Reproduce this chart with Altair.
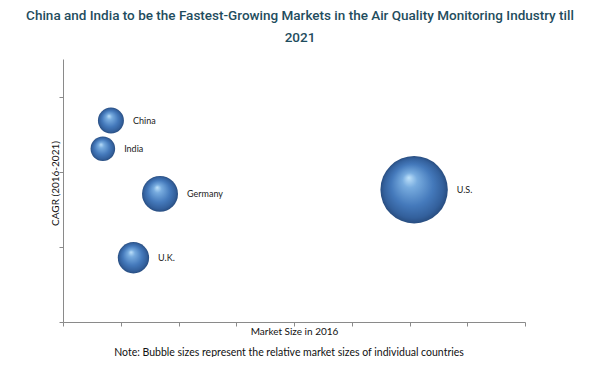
import altair as alt
import pandas as pd

countries = ["China", "India", "Germany", "U.K.", "U.S."]
market_size_x = [0.83, 0.69, 1.68, 1.22, 6.08]
cagr_y = [5.36, 4.61, 3.41, 1.71, 3.52]
relative_size = [14.9, 13.3, 28.5, 21.6, 100.0]
x_ticks = [0, 1, 2, 3, 4, 5, 6, 7, 8]
y_ticks = [0, 1, 2, 3, 4, 5, 6, 7]

W, H = 462, 263
SIZE_MAX = 4540.0
df = pd.DataFrame({
    "country": countries,
    "x": market_size_x,
    "y": cagr_y,
    "size": relative_size,
})

sphere = {
    "gradient": "radial",
    "x1": 0.42, "y1": 0.32, "r1": 0.0,
    "x2": 0.5, "y2": 0.5, "r2": 0.5,
    "stops": [
        {"offset": 0.0, "color": "#bfe2fb"},
        {"offset": 0.22, "color": "#78acdf"},
        {"offset": 0.62, "color": "#4479bb"},
        {"offset": 0.88, "color": "#33609c"},
        {"offset": 1.0, "color": "#284d80"},
    ],
}

xscale = alt.Scale(domain=[0, 8], nice=False, zero=True)
yscale = alt.Scale(domain=[0, 7], nice=False, zero=True)

x_axis = alt.Axis(values=x_ticks, labels=False, grid=False, ticks=True, tickSize=4,
                  domainColor="#8a8a8a", tickColor="#8a8a8a",
                  title="Market Size in 2016", titleFont="Lato", titleFontSize=10,
                  titleFontWeight="normal", titleColor="#111111",
                  titleBaseline="middle", titleY=9)
y_axis = alt.Axis(values=y_ticks, labels=False, grid=False, ticks=True, tickSize=4,
                  domainColor="#8a8a8a", tickColor="#8a8a8a",
                  title="CAGR (2016-2021)", titleFont="Lato", titleFontSize=10,
                  titleFontWeight="normal", titleColor="#111111",
                  titleBaseline="middle", titleX=-8, titleY=124)

base = alt.Chart(df)

bubbles = base.mark_point(filled=True, shape="circle", fill=sphere, opacity=1,
                          strokeWidth=0).encode(
    x=alt.X("x:Q", scale=xscale, axis=x_axis),
    y=alt.Y("y:Q", scale=yscale, axis=y_axis),
    size=alt.Size("size:Q", scale=alt.Scale(domain=[0, 100], range=[0, SIZE_MAX], zero=True),
                  legend=None),
)

# label sits right of each bubble: radius (from its size) plus a small gap
labels = base.transform_calculate(
    radius_px=f"sqrt(datum.size / 100 * {SIZE_MAX}) / 2",
).transform_calculate(
    label_x=f"datum.x + (datum.radius_px + 9) / ({W} / 8)",
).mark_text(align="left", baseline="middle", font="Lato", fontSize=9,
            color="#1a1a1a").encode(
    x=alt.X("label_x:Q", scale=xscale),
    y=alt.Y("y:Q", scale=yscale),
    text="country:N",
)

note_df = pd.DataFrame({"note": ["Note: Bubble sizes represent the relative market sizes of individual countries"]})
note = alt.Chart(note_df).mark_text(align="center", baseline="middle", font="Lato",
                                    fontSize=10.5, color="#111111").encode(
    x=alt.value(226), y=alt.value(294), text="note:N"
)

chart = alt.layer(bubbles, labels, note).properties(
    width=W, height=H,
    title=alt.Title(
        ["China and India to be the Fastest-Growing Markets in the Air Quality Monitoring Industry till", "2021"],
        font="Roboto", fontSize=13.5, fontWeight=500, color="#1f4d5e",
        anchor="middle", offset=15, dx=6, lineHeight=22,
    ),
    autosize=alt.AutoSizeParams(type="none"),
    padding={"left": 55, "top": 51, "right": 67, "bottom": 35},
).configure(background="white").configure_view(stroke=None, strokeWidth=0)

chart.save("out.html", embed_options={"renderer": "svg", "actions": False})
